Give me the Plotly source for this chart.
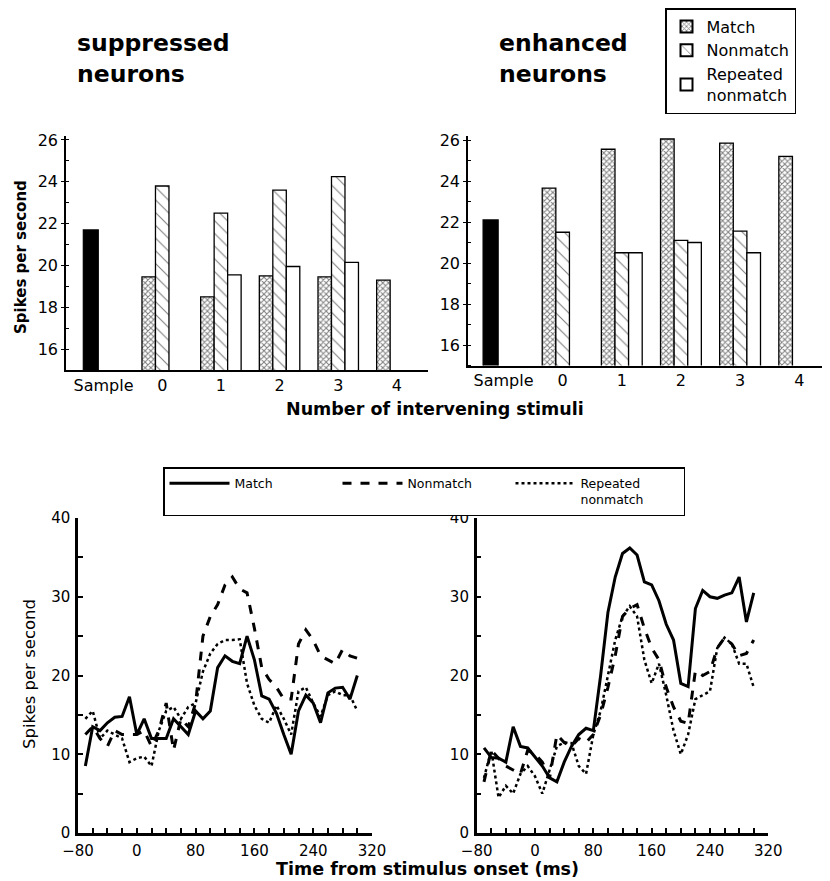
import plotly.graph_objects as go

# ---------------- bar chart data ----------------
bar_categories = ["Sample", "0", "1", "2", "3", "4"]
bar_positions = list(range(len(bar_categories)))

supp_sample = [21.7]
supp_match = [None, 19.45, 18.5, 19.5, 19.45, 19.3]
supp_nonmatch = [None, 23.8, 22.5, 23.6, 24.25, None]
supp_repeated = [None, None, 19.55, 19.95, 20.15, None]

enh_sample = [22.1]
enh_match = [None, 23.65, 25.55, 26.05, 25.85, 25.2]
enh_nonmatch = [None, 21.5, 20.5, 21.1, 21.55, None]
enh_repeated = [None, None, 20.5, 21.0, 20.5, None]

bar_yticks = [16, 18, 20, 22, 24, 26]

# ---------------- line chart data ----------------
time_ms = list(range(-70, 301, 10))

supp_line_match = [8.5, 13.5, 13.0, 14.0, 14.7, 14.8, 17.3, 12.5, 14.5, 12.0,
                   12.0, 12.0, 14.5, 13.5, 12.5, 15.5, 14.5, 15.5, 21.0, 22.5,
                   21.8, 21.5, 25.0, 22.0, 17.4, 17.0, 15.2, 12.5, 10.0, 15.5,
                   17.5, 16.5, 14.0, 17.8, 18.4, 18.5, 17.0, 20.0]
supp_line_nonmatch = [12.5, 13.5, 12.0, 11.0, 13.0, 12.5, 12.5, 12.5, 13.0, 11.0,
                      13.0, 16.5, 10.5, 14.5, 13.5, 16.5, 25.0, 27.5, 29.0, 31.5,
                      32.5, 31.0, 30.5, 26.0, 21.0, 19.5, 18.5, 17.0, 17.0, 24.0,
                      25.8, 24.5, 22.5, 22.0, 21.5, 23.3, 22.5, 22.2]
supp_line_repeated = [14.5, 15.5, 12.0, 13.0, 12.5, 12.0, 9.0, 9.5, 9.7, 8.5,
                      13.0, 15.5, 16.0, 14.5, 16.0, 16.5, 20.5, 22.8, 24.0, 24.5,
                      24.5, 24.6, 19.0, 16.2, 14.5, 14.0, 16.2, 14.5, 12.5, 18.0,
                      18.5, 16.5, 14.8, 17.5, 18.0, 17.5, 17.5, 15.5]

enh_line_match = [10.8, 9.6, 9.5, 9.0, 13.5, 11.0, 10.8, 9.7, 8.5, 7.0,
                  6.5, 9.0, 11.0, 12.5, 13.3, 13.0, 20.0, 28.0, 32.5, 35.5,
                  36.2, 35.3, 31.9, 31.5, 29.5, 26.5, 24.5, 19.0, 18.6, 28.5,
                  30.8, 30.0, 29.8, 30.2, 30.5, 32.5, 26.8, 30.5]
enh_line_nonmatch = [6.5, 10.5, 9.5, 8.5, 8.0, 7.5, 10.5, 10.0, 9.0, 7.0,
                     12.5, 11.5, 11.0, 12.0, 11.5, 12.5, 15.0, 18.5, 22.5, 27.5,
                     28.5, 29.0, 26.0, 23.5, 22.0, 18.5, 16.0, 14.2, 13.9, 20.6,
                     20.0, 20.5, 23.5, 24.8, 24.0, 22.5, 22.8, 24.5]
enh_line_repeated = [7.0, 10.5, 4.5, 6.0, 5.0, 7.5, 8.5, 7.2, 5.0, 8.0,
                     11.0, 11.5, 11.4, 8.5, 7.5, 12.5, 15.5, 20.0, 24.5, 27.5,
                     28.8, 27.5, 22.0, 19.0, 21.5, 17.5, 13.0, 10.0, 12.5, 17.0,
                     17.5, 18.0, 23.5, 24.8, 24.0, 21.5, 21.5, 18.5]

FONT = "DejaVu Sans, Liberation Sans, Arial, sans-serif"
BW = 0.23  # bar width in slot units

# page body has an 8px margin; figure is sized/positioned to compensate
W, H, OFF = 822, 873, 8


def fx(p):
    return (p - OFF) / W


def fy(p):
    return 1 - (p - OFF) / H


fig = go.Figure()


def add_bars(xa, ya, sample, match, nonmatch, repeated, show):
    fig.add_trace(go.Bar(
        x=[bar_positions[0]], y=sample, width=0.255, offset=-1.5 * BW,
        marker=dict(color="black", line=dict(color="black", width=1.2)),
        showlegend=False, xaxis=xa, yaxis=ya, hoverinfo="skip"))
    fig.add_trace(go.Bar(
        x=bar_positions, y=match, width=BW, offset=-1.5 * BW, name="Match",
        legendgroup="m",
        marker=dict(color="white",
                    pattern=dict(shape="x", fgcolor="black", bgcolor="white",
                                 size=4, solidity=0.45),
                    line=dict(color="black", width=1.3)),
        showlegend=show, legend="legend", xaxis=xa, yaxis=ya))
    fig.add_trace(go.Bar(
        x=bar_positions, y=nonmatch, width=BW, offset=-0.5 * BW, name="Nonmatch",
        legendgroup="n",
        marker=dict(color="white",
                    pattern=dict(shape="\\", fgcolor="black", bgcolor="white",
                                 size=9, solidity=0.12),
                    line=dict(color="black", width=1.3)),
        showlegend=show, legend="legend", xaxis=xa, yaxis=ya))
    fig.add_trace(go.Bar(
        x=bar_positions, y=repeated, width=BW, offset=0.5 * BW,
        name="Repeated<br>nonmatch", legendgroup="r",
        marker=dict(color="white", line=dict(color="black", width=1.3)),
        showlegend=show, legend="legend", xaxis=xa, yaxis=ya))


add_bars("x", "y", supp_sample, supp_match, supp_nonmatch, supp_repeated, True)
add_bars("x2", "y2", enh_sample, enh_match, enh_nonmatch, enh_repeated, False)


def add_lines(xa, ya, m, n, r, show):
    fig.add_trace(go.Scatter(x=time_ms, y=m, mode="lines", name="Match",
                             line=dict(color="black", width=3),
                             showlegend=show, legend="legend2", xaxis=xa, yaxis=ya))
    fig.add_trace(go.Scatter(x=time_ms, y=n, mode="lines", name="Nonmatch",
                             line=dict(color="black", width=3, dash="dash"),
                             showlegend=show, legend="legend2", xaxis=xa, yaxis=ya))
    fig.add_trace(go.Scatter(x=time_ms, y=r, mode="lines", name="Repeated<br>nonmatch",
                             line=dict(color="black", width=2.5, dash="dot"),
                             showlegend=show, legend="legend2", xaxis=xa, yaxis=ya))


add_lines("x3", "y3", supp_line_match, supp_line_nonmatch, supp_line_repeated, True)
add_lines("x4", "y4", enh_line_match, enh_line_nonmatch, enh_line_repeated, False)

tickfont = dict(family=FONT, size=16, color="black")
ltickfont = dict(family=FONT, size=15, color="black")

bar_x_common = dict(tickmode="array", tickvals=bar_positions, ticktext=bar_categories,
                    showline=True, linecolor="black", linewidth=1.5, ticks="",
                    showgrid=False, zeroline=False, tickfont=tickfont, automargin=False)
bar_y_common = dict(tickmode="array", tickvals=bar_yticks, showline=True,
                    linecolor="black", linewidth=1.5, ticks="outside", ticklen=3,
                    tickcolor="black", showgrid=False, zeroline=False,
                    tickfont=tickfont, automargin=False,
                    minor=dict(dtick=1, ticks="inside", ticklen=3, tickcolor="black"))

line_x_common = dict(range=[-80, 320], dtick=80, tick0=-80, showline=True,
                     linecolor="black", linewidth=2.5, ticks="inside", ticklen=5,
                     tickwidth=2, tickcolor="black", showgrid=False, zeroline=False,
                     tickfont=ltickfont, automargin=False, ticklabelstandoff=2,
                     minor=dict(dtick=20, ticks="inside", ticklen=5, tickwidth=2,
                                tickcolor="black"))
line_y_common = dict(range=[0, 40], dtick=10, showline=True, linecolor="black",
                     linewidth=2.5, ticks="inside", ticklen=5, tickwidth=2,
                     tickcolor="black", showgrid=False, zeroline=False,
                     tickfont=ltickfont, automargin=False, ticklabelstandoff=2,
                     minor=dict(dtick=5, ticks="inside", ticklen=5, tickwidth=2,
                                tickcolor="black"))

fig.update_layout(
    width=W, height=H,
    margin=dict(l=0, r=0, t=0, b=0, pad=0, autoexpand=False),
    paper_bgcolor="white", plot_bgcolor="white", barmode="overlay",
    font=dict(family=FONT, color="black"),
    xaxis=dict(domain=[fx(66), fx(428)], range=[-0.64, 5.53], anchor="y", **bar_x_common),
    yaxis=dict(domain=[fy(370), fy(135.8)], range=[15, 26.2], anchor="x", **bar_y_common),
    xaxis2=dict(domain=[fx(468), fx(830)], range=[-0.6, 5.52], anchor="y2", **bar_x_common),
    yaxis2=dict(domain=[fy(365.5), fy(135.9)], range=[15, 26.2], anchor="x2", **bar_y_common),
    xaxis3=dict(domain=[fx(78), fx(372)], anchor="y3", **line_x_common),
    yaxis3=dict(domain=[fy(833), fy(518)], anchor="x3", **line_y_common),
    xaxis4=dict(domain=[fx(476.7), fx(768.3)], anchor="y4", **line_x_common),
    yaxis4=dict(domain=[fy(833), fy(518)], anchor="x4", **line_y_common),
    legend=dict(x=fx(665), y=fy(8), xanchor="left", yanchor="top",
                bordercolor="black", borderwidth=1.5, bgcolor="white",
                font=dict(family=FONT, size=16, color="black"),
                traceorder="normal", itemsizing="constant", tracegroupgap=18),
    legend2=dict(x=fx(163), y=fy(467), xanchor="left", yanchor="top",
                 orientation="h", valign="top",
                 bordercolor="black", borderwidth=1.5, bgcolor="white",
                 font=dict(family=FONT, size=12.5, color="black"),
                 itemwidth=60, entrywidth=98, traceorder="normal"),
)

ann = [
    dict(text="<b>suppressed<br>neurons</b>", x=fx(75), y=fy(58),
         xanchor="left", yanchor="middle", align="left",
         font=dict(family=FONT, size=23.5, color="black")),
    dict(text="<b>enhanced<br>neurons</b>", x=fx(497), y=fy(58),
         xanchor="left", yanchor="middle", align="left",
         font=dict(family=FONT, size=23.5, color="black")),
    dict(text="<b>Number of intervening stimuli</b>", x=fx(435), y=fy(409),
         xanchor="center", yanchor="middle", font=dict(family=FONT, size=17.5, color="black")),
    dict(text="<b>Time from stimulus onset (ms)</b>", x=fx(427), y=fy(869),
         xanchor="center", yanchor="middle", font=dict(family=FONT, size=17.5, color="black")),
    dict(text="<b>Spikes per second</b>", x=fx(21), y=fy(257), textangle=-90,
         xanchor="center", yanchor="middle", font=dict(family=FONT, size=15, color="black")),
    dict(text="Spikes per second", x=fx(29), y=fy(674), textangle=-90,
         xanchor="center", yanchor="middle", font=dict(family=FONT, size=16.5, color="black")),
]
for a in ann:
    a.update(xref="paper", yref="paper", showarrow=False)
fig.update_layout(annotations=ann)

fig.write_html("out.html")
